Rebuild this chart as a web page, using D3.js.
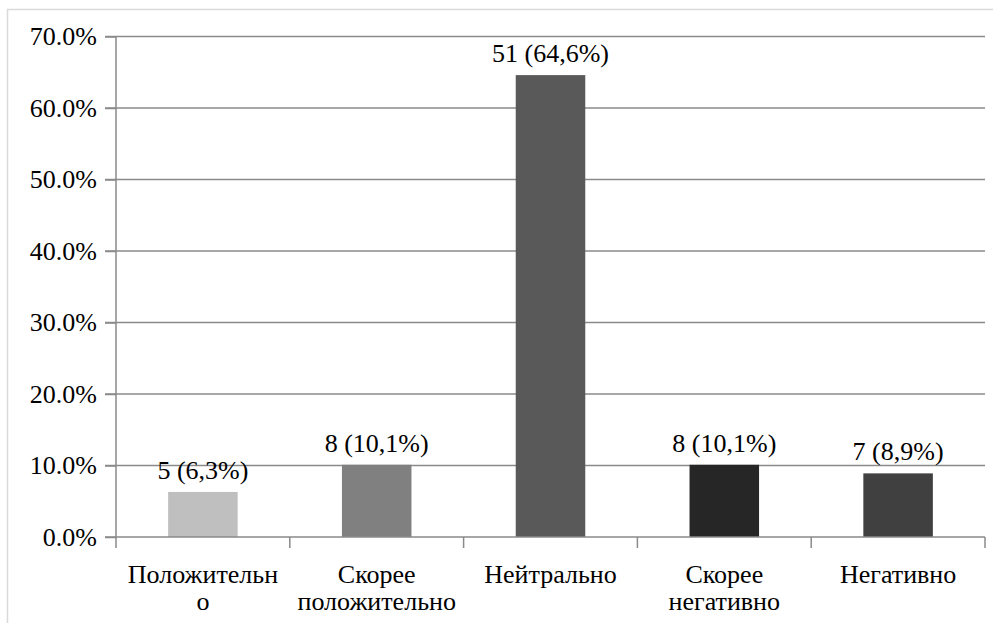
<!DOCTYPE html>
<html><head><meta charset="utf-8">
<script src="https://cdn.jsdelivr.net/npm/d3@7/dist/d3.min.js"></script>
<style>body{margin:0;background:#fff}</style>
</head><body>
<script>
const categories = ["Положительно","Скорее положительно","Нейтрально","Скорее негативно","Негативно"];
const categoryLines = [["Положительн","о"],["Скорее","положительно"],["Нейтрально"],["Скорее","негативно"],["Негативно"]];
const values = [6.3, 10.1, 64.6, 10.1, 8.9];
const counts = [5, 8, 51, 8, 7];
const valueLabels = ["5 (6,3%)","8 (10,1%)","51 (64,6%)","8 (10,1%)","7 (8,9%)"];
const barColors = ["#bfbfbf","#808080","#595959","#262626","#404040"];
const yTicks = [0,10,20,30,40,50,60,70];

const W = 993, H = 623;
const m = {left:116, right:8, top:36.5, bottom:86};
const FONT = "Liberation Serif";
const BASE = 20, K = 1.3; // 20px glyphs drawn at 1.3x = 26px
const svg = d3.select("body").append("svg").attr("width",W).attr("height",H);

function label(parent, x, y, txt, anchor){
  return parent.append("text")
    .attr("transform",`translate(${x},${y}) scale(${K})`)
    .attr("text-anchor",anchor||"middle")
    .attr("font-family",FONT).attr("font-size",BASE).attr("fill","#000")
    .text(txt);
}

// frame
svg.append("rect").attr("x",7.5).attr("y",9.5).attr("width",W+10).attr("height",H+10)
  .attr("fill","none").attr("stroke","#d9d9d9").attr("stroke-width",1.5);

const x = d3.scaleBand().domain(categories).range([m.left, W - m.right]).paddingInner(0.6).paddingOuter(0.3);
const y = d3.scaleLinear().domain([0,70]).range([H - m.bottom, m.top]);

const grid = "#8a8a8a";
svg.append("g").selectAll("line").data(yTicks.slice(1)).join("line")
  .attr("x1", m.left - 11).attr("x2", W - m.right)
  .attr("y1", d=>y(d)).attr("y2", d=>y(d))
  .attr("stroke", grid).attr("stroke-width",1.5);

svg.append("g").selectAll("rect").data(values).join("rect")
  .attr("x",(d,i)=>x(categories[i])).attr("width",x.bandwidth())
  .attr("y",d=>y(d)).attr("height",d=>y(0)-y(d))
  .attr("fill",(d,i)=>barColors[i]);

const yAxis = d3.axisLeft(y).tickValues(yTicks).tickSize(11).tickPadding(8).tickFormat(d=>d.toFixed(1)+"%");
const gy = svg.append("g").attr("transform",`translate(${m.left},0)`).call(yAxis);
gy.attr("font-family",FONT).attr("font-size",BASE);
gy.select(".domain").attr("stroke",grid).attr("stroke-width",1.5).attr("d",`M0,${m.top}V${y(0)}`);
gy.selectAll(".tick line").attr("stroke",grid).attr("stroke-width",1.5);
gy.selectAll(".tick text")
  .attr("x",0).attr("dy","0.32em")
  .attr("transform",`translate(-19,0) scale(${K})`)
  .attr("font-family",FONT).attr("font-size",BASE).attr("fill","#000");

const xb = d3.scaleBand().domain(categories).range([m.left, W - m.right]);
svg.append("line").attr("x1",m.left-11).attr("x2",W-m.right).attr("y1",y(0)).attr("y2",y(0))
  .attr("stroke",grid).attr("stroke-width",1.5);
const bounds = categories.map(c=>xb(c)).concat([W - m.right]);
svg.append("g").selectAll("line").data(bounds).join("line")
  .attr("x1",d=>d).attr("x2",d=>d).attr("y1",y(0)).attr("y2",y(0)+11)
  .attr("stroke",grid).attr("stroke-width",1.5);

const gl = svg.append("g");
categoryLines.forEach((lines,i)=>{
  const cx = xb(categories[i]) + xb.bandwidth()/2;
  lines.forEach((l,j)=> label(gl, cx, 583 + j*27, l));
});

const gv = svg.append("g");
values.forEach((v,i)=>{
  label(gv, x(categories[i]) + x.bandwidth()/2, y(v) - 13, valueLabels[i]);
});
</script>
</body></html>
